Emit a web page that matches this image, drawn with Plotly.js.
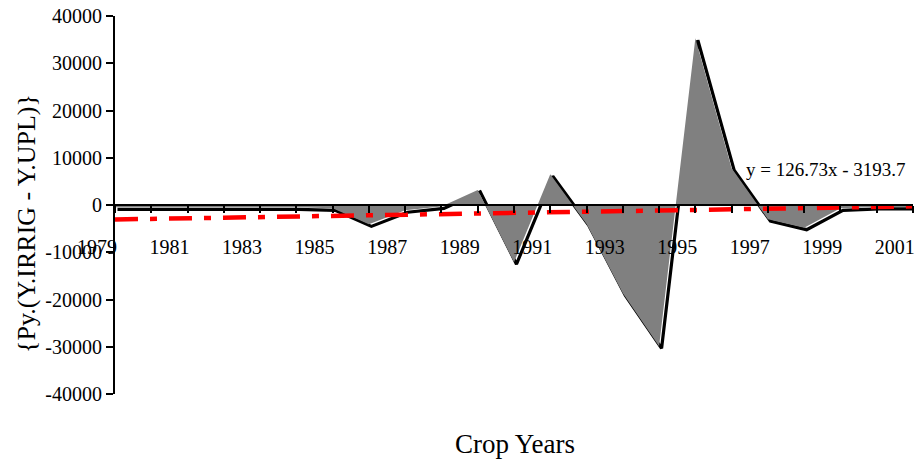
<!DOCTYPE html>
<html>
<head>
<meta charset="utf-8">
<script src="https://cdn.plot.ly/plotly-3.0.1.min.js"></script>
<style>html,body{margin:0;padding:0;background:#fff;}#chart{width:917px;height:465px;}</style>
</head>
<body>
<div id="chart"></div>
<script>
// ---- data ----
const years = [1979,1980,1981,1982,1983,1984,1985,1986,1987,1988,1989,1990,1991,1992,1993,1994,1995,1996,1997,1998,1999,2000,2001];
const diffValues = [-500,-500,-500,-500,-500,-500,-700,-4100,-1100,-300,3200,-12100,6500,-4000,-18700,-29900,35300,7800,-3000,-4800,-700,-400,-400];
// trend line as printed on the chart: y = 126.73x - 3193.7 (x = 1..23)
const trendSlope = 126.73;
const trendIntercept = -3193.7;
const trendLabel = "y = 126.73x - 3193.7";
const xLabelYears = [1979,1981,1983,1985,1987,1989,1991,1993,1995,1997,1999,2001];
const xLabelText = ["1979","1981","1983","1985","1987","1989","1991","1993","1995","1997","1999","2001"];
const yTickVals = [-40000,-30000,-20000,-10000,0,10000,20000,30000,40000];
const yTickText = ["-40000","-30000","-20000","-10000","0","10000","20000","30000","40000"];
const yTitle = "{Py.(Y.IRRIG - Y.UPL)}";
const xTitle = "Crop Years";

const trendValues = years.map((_, i) => trendSlope * (i + 1) + trendIntercept);

const FONT = "Liberation Serif";
const W = 917, H = 465;
const M = {l: 97, r: 4, t: 16, b: 71};
const plotW = W - M.l - M.r, plotH = H - M.t - M.b;
const dom0 = 18 / plotW;             // y axis sits 18px right of the plot-area edge
const pxPerYear = (plotW * (1 - dom0)) / (years[years.length - 1] - years[0]);
const shadowDX = 2.5 / pxPerYear;     // offset of the black line behind the area (px -> data)
const shadowDY = 2 * 80000 / plotH;

const traces = [
  { // black line, drawn behind the area and slightly offset (base subplot = lowest layer)
    x: years, y: diffValues, xaxis: 'x', yaxis: 'y', type: 'scatter', mode: 'lines',
    line: {color: '#000000', width: 3.2}, hoverinfo: 'skip', showlegend: false
  },
  { // grey area (overlay subplot, above the black line)
    x: years, y: diffValues, xaxis: 'x2', yaxis: 'y2', type: 'scatter', mode: 'lines',
    fill: 'tozeroy', fillcolor: '#808080', line: {color: '#808080', width: 0},
    hoverinfo: 'skip', showlegend: false
  },
  { // linear trend
    x: years, y: trendValues, xaxis: 'x2', yaxis: 'y2', type: 'scatter', mode: 'lines',
    line: {color: '#FF0000', width: 4.5, dash: '23px,12px,7px,12px'},
    hoverinfo: 'skip', showlegend: false
  },
  { // carrier for the category label axis
    x: [], y: [], xaxis: 'x3', yaxis: 'y', type: 'scatter', mode: 'lines',
    hoverinfo: 'skip', showlegend: false
  }
];

const layout = {
  width: W, height: H,
  margin: M,
  paper_bgcolor: '#ffffff', plot_bgcolor: 'rgba(0,0,0,0)',
  showlegend: false,
  font: {family: FONT, color: '#000000'},
  xaxis: {domain: [dom0, 1], anchor: 'y',
          range: [years[0] - shadowDX, years[years.length - 1] - shadowDX],
          visible: false, fixedrange: true},
  yaxis: {anchor: 'x', range: [-40000 + shadowDY, 40000 + shadowDY],
          visible: false, fixedrange: true},
  xaxis2: {domain: [dom0, 1], overlaying: 'x', range: [years[0], years[years.length - 1]],
           anchor: 'free', position: 0.5, showline: true, linecolor: '#000000', linewidth: 2,
           ticks: 'outside', ticklen: 7, tickwidth: 2, tickcolor: '#000000',
           tickvals: years, showticklabels: false, showgrid: false, zeroline: false,
           layer: 'above traces', fixedrange: true},
  yaxis2: {overlaying: 'y', anchor: 'x2', side: 'left', range: [-40000, 40000],
           tickvals: yTickVals, ticktext: yTickText,
           showline: true, linecolor: '#000000', linewidth: 2,
           ticks: 'outside', ticklen: 7, tickwidth: 2, tickcolor: '#000000',
           tickfont: {family: FONT, size: 20, color: '#000000'},
           showgrid: false, zeroline: false, layer: 'above traces', fixedrange: true},
  xaxis3: {domain: [0, 1], range: [years[0], years[years.length - 1] + 0.5],
           anchor: 'free', position: 0.426, tickvals: xLabelYears, ticktext: xLabelText,
           ticks: '', showline: false, showgrid: false, zeroline: false,
           tickfont: {family: FONT, size: 20, color: '#000000'}, fixedrange: true},
  annotations: [
    {text: trendLabel, xref: 'paper', yref: 'paper', x: (826 - M.l) / plotW, y: (H - M.b - 169) / plotH,
     xanchor: 'center', yanchor: 'middle', showarrow: false,
     font: {family: FONT, size: 19, color: '#000000'}},
    {text: yTitle, xref: 'paper', yref: 'paper', x: (26 - M.l) / plotW, y: (H - M.b - 224) / plotH,
     xanchor: 'center', yanchor: 'middle', textangle: -90, showarrow: false,
     font: {family: FONT, size: 26, color: '#000000'}},
    {text: xTitle, xref: 'paper', yref: 'paper', x: (515 - M.l) / plotW, y: (H - M.b - 444) / plotH,
     xanchor: 'center', yanchor: 'middle', showarrow: false,
     font: {family: FONT, size: 27, color: '#000000'}}
  ]
};

Plotly.newPlot('chart', traces, layout, {staticPlot: true, displayModeBar: false});
</script>
</body>
</html>
